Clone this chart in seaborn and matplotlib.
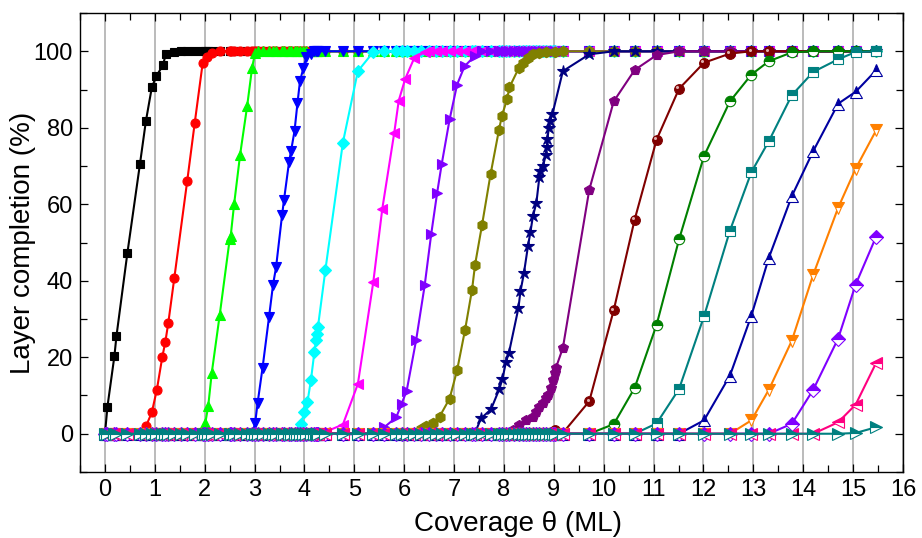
import numpy as np
import pandas as pd
import matplotlib
matplotlib.use("Agg")
import matplotlib.pyplot as plt
from matplotlib.ticker import MultipleLocator
from matplotlib.transforms import ScaledTranslation
import seaborn as sns

# Coverage values (ML) at which the layer completions were sampled
coverage_grid = [
    0.0, 0.05, 0.19, 0.23, 0.45, 0.70, 0.82, 0.94, 1.03, 1.15, 1.21, 1.27, 1.39,
    1.52, 1.65, 1.80, 1.96, 2.01, 2.07, 2.14, 2.30, 2.50, 2.52, 2.59, 2.71, 2.85,
    2.95, 3.01, 3.06, 3.16, 3.29, 3.37, 3.43, 3.55, 3.59, 3.69, 3.73, 3.80, 3.86,
    3.91, 3.98, 4.04, 4.13, 4.20, 4.23, 4.25, 4.27, 4.42, 4.77, 5.07, 5.38, 5.60,
    5.84, 5.95, 6.05, 6.20, 6.34, 6.50, 6.64, 6.75, 6.91, 7.06, 7.21, 7.36, 7.41,
    7.56, 7.73, 7.90, 7.97, 8.05, 8.11, 8.20, 8.30, 8.38, 8.45, 8.51, 8.58, 8.65,
    8.71, 8.78, 8.85, 8.92, 8.98, 9.02, 9.18, 9.71, 10.20, 10.62, 11.06, 11.51,
    12.01, 12.53, 12.96, 13.31, 13.77, 14.20, 14.70, 15.05, 15.46,
]

# Rising part of each layer's completion curve (coverage, completion %)
layer1_x = [0.0, 0.05, 0.19, 0.23, 0.45, 0.70, 0.82, 0.94, 1.03, 1.16, 1.22, 1.39]
layer1_y = [0.0, 7.1, 20.4, 25.5, 47.3, 70.4, 81.7, 90.6, 93.5, 96.3, 99.2, 99.8]

layer2_x = [0.70, 0.82, 0.94, 1.04, 1.15, 1.21, 1.27, 1.39, 1.65, 1.80, 1.96, 2.05, 2.14]
layer2_y = [0.0, 1.9, 5.6, 11.5, 20.1, 24.0, 29.0, 40.7, 66.2, 81.3, 97.0, 98.6, 99.6]

layer3_x = [1.96, 2.01, 2.07, 2.14, 2.30, 2.50, 2.52, 2.59, 2.71, 2.85, 2.95, 3.01]
layer3_y = [0.0, 2.7, 7.2, 15.8, 31.0, 50.8, 51.6, 60.1, 73.0, 85.6, 95.7, 99.6]

layer4_x = [2.95, 3.01, 3.06, 3.16, 3.29, 3.37, 3.43, 3.55, 3.59, 3.69, 3.73, 3.80,
            3.86, 3.91, 3.98, 4.04, 4.13]
layer4_y = [0.0, 2.7, 8.0, 17.3, 30.6, 39.0, 43.5, 57.1, 61.2, 71.0, 73.9, 79.1,
            86.5, 92.2, 95.7, 98.6, 99.4]

layer5_x = [3.80, 3.93, 4.00, 4.06, 4.13, 4.20, 4.23, 4.25, 4.27, 4.42, 4.77, 5.07, 5.38]
layer5_y = [0.0, 2.6, 5.8, 8.3, 14.1, 21.5, 24.4, 26.0, 27.9, 42.9, 76.1, 94.8, 99.8]

layer6_x = [4.42, 4.77, 5.07, 5.38, 5.56, 5.80, 5.89, 6.02, 6.20, 6.41]
layer6_y = [0.5, 2.4, 13.0, 39.7, 58.8, 78.7, 87.1, 92.8, 98.2, 99.8]

layer7_x = [5.38, 5.60, 5.84, 5.95, 6.05, 6.24, 6.41, 6.54, 6.66, 6.75, 6.91, 7.06,
            7.21, 7.41]
layer7_y = [0.0, 1.7, 4.3, 7.9, 11.3, 24.6, 38.8, 52.1, 63.0, 70.4, 82.2, 91.3,
            96.1, 98.7]

layer8_x = [6.20, 6.34, 6.44, 6.57, 6.71, 6.91, 7.06, 7.22, 7.36, 7.42, 7.56, 7.73,
            7.90, 7.96, 8.06, 8.11, 8.30, 8.38, 8.48, 8.58, 8.71, 8.85, 9.02, 9.18, 9.71]
layer8_y = [0.0, 1.2, 1.9, 2.8, 4.5, 9.2, 16.6, 27.2, 37.7, 44.2, 54.6, 67.8,
            79.5, 83.2, 87.4, 90.6, 95.7, 97.0, 98.3, 99.2, 99.6, 99.8, 99.9, 100.0, 100.0]

layer9_x = [7.41, 7.54, 7.74, 7.91, 7.97, 8.04, 8.10, 8.29, 8.33, 8.40, 8.48, 8.53,
            8.58, 8.65, 8.71, 8.73, 8.78, 8.84, 8.86, 8.87, 8.90, 8.92, 8.97, 9.18, 9.71]
layer9_y = [0.0, 4.0, 6.4, 11.8, 14.4, 18.8, 21.2, 32.9, 37.2, 42.0, 49.0, 52.7,
            56.9, 60.4, 67.2, 68.6, 69.9, 73.0, 75.0, 77.1, 80.0, 81.7, 83.5, 94.8, 99.2]

layer10_x = [8.18, 8.31, 8.45, 8.58, 8.65, 8.71, 8.78, 8.85, 8.88, 8.95, 8.98, 9.02,
             9.04, 9.18, 9.71, 10.20, 10.62, 11.06, 11.51]
layer10_y = [1.0, 2.4, 3.7, 4.5, 5.8, 7.1, 8.0, 9.3, 10.2, 12.0, 14.1, 15.9,
             17.2, 22.4, 63.8, 86.9, 95.1, 99.0, 100.0]

layer11_x = [8.98, 9.02, 9.18, 9.71, 10.20, 10.62, 11.06, 11.51, 12.01, 12.53, 12.96]
layer11_y = [0.0, 1.0, 0.2, 8.5, 32.3, 56.0, 76.9, 90.2, 97.0, 99.4, 100.0]

layer12_x = [9.71, 10.20, 10.62, 11.06, 11.51, 12.01, 12.53, 12.96, 13.31, 13.77]
layer12_y = [0.0, 2.5, 12.0, 28.5, 50.8, 72.6, 86.9, 93.9, 97.4, 99.7]

layer13_x = [10.62, 11.06, 11.51, 12.01, 12.53, 12.96, 13.31, 13.77, 14.20, 14.70, 15.05]
layer13_y = [0.0, 2.7, 11.7, 30.7, 53.1, 68.4, 76.5, 88.5, 94.6, 97.9, 99.8]

layer14_x = [11.51, 12.01, 12.53, 12.96, 13.31, 13.77, 14.20, 14.70, 15.05, 15.46]
layer14_y = [0.0, 3.5, 15.2, 30.9, 46.0, 62.1, 73.9, 86.3, 89.4, 95.0]

layer15_x = [12.53, 12.96, 13.31, 13.77, 14.20, 14.70, 15.05, 15.46]
layer15_y = [0.0, 3.5, 11.5, 24.3, 41.6, 59.1, 69.3, 79.3]

layer16_x = [13.31, 13.77, 14.20, 14.70, 15.05, 15.46]
layer16_y = [0.0, 2.6, 11.5, 24.9, 39.0, 51.5]

layer17_x = [14.20, 14.70, 15.05, 15.46]
layer17_y = [0.0, 3.0, 7.6, 18.5]

layer18_x = [15.05, 15.46]
layer18_y = [0.2, 1.7]

layers_x = [layer1_x, layer2_x, layer3_x, layer4_x, layer5_x, layer6_x, layer7_x,
            layer8_x, layer9_x, layer10_x, layer11_x, layer12_x, layer13_x,
            layer14_x, layer15_x, layer16_x, layer17_x, layer18_x]
layers_y = [layer1_y, layer2_y, layer3_y, layer4_y, layer5_y, layer6_y, layer7_y,
            layer8_y, layer9_y, layer10_y, layer11_y, layer12_y, layer13_y,
            layer14_y, layer15_y, layer16_y, layer17_y, layer18_y]

colors = ["#000000", "#FF0000", "#00FF00", "#0000FF", "#00FFFF", "#FF00FF",
          "#8000FF", "#808000", "#000080", "#800080", "#800000", "#008000",
          "#008080", "#0000A0", "#FF8000", "#8000FF", "#FF0080", "#008080"]
markers = ["s", "o", "^", "v", "D", "<", ">", "h", "*", "p", "o", "o",
           "s", "^", "v", "D", "<", ">"]
marker_sizes = [6, 6.5, 7, 7, 6, 7, 7, 7.5, 9, 7.5, 7, 7.5, 7, 8, 8, 7, 8, 8]
half_filled = [False] * 11 + [True] * 7


def full_series(rise_x, rise_y):
    """Complete a layer's curve: empty before its rise, full after it."""
    grid = np.asarray(coverage_grid)
    before = grid[grid < rise_x[0] - 0.02]
    after = grid[grid > rise_x[-1] + 0.02]
    x = np.concatenate([before, rise_x, after])
    y = np.concatenate([np.zeros(len(before)), rise_y, np.full(len(after), 100.0)])
    return pd.DataFrame({"coverage": x, "completion": y})


sns.set_style("ticks")
plt.rcParams["font.family"] = ["Liberation Sans", "DejaVu Sans"]
plt.rcParams.update({
    "axes.linewidth": 1.0,
    "axes.edgecolor": "black",
    "axes.labelcolor": "black",
    "text.color": "black",
    "xtick.color": "black",
    "ytick.color": "black",
})

fig = plt.figure(figsize=(9.22, 5.38), dpi=100)
ax = fig.add_axes([0.0868, 0.1227, 0.8926, 0.8531])

for i, (lx, ly) in enumerate(zip(layers_x, layers_y)):
    df = full_series(lx, ly)
    c = colors[i]
    style = dict(marker=markers[i], markersize=marker_sizes[i], markeredgecolor=c,
                 markeredgewidth=0.8, markerfacecolor=c, linewidth=1.5)
    if half_filled[i]:
        style.update(fillstyle="top", markerfacecoloralt="white")
    sns.lineplot(data=df, x="coverage", y="completion", color=c, ax=ax,
                 estimator=None, sort=False, legend=False, **style)
    if i == 10:
        # small specular highlight on the sphere markers
        shift = ScaledTranslation(-1.2 / 72, 1.2 / 72, fig.dpi_scale_trans)
        ax.plot(df["coverage"], df["completion"], linestyle="none", marker="o",
                markersize=2.2, color="#e0b0b0", markeredgewidth=0,
                transform=ax.transData + shift)

ax.set_xlim(-0.5, 16)
ax.set_ylim(-10, 110)
ax.xaxis.set_major_locator(MultipleLocator(1))
ax.xaxis.set_minor_locator(MultipleLocator(0.5))
ax.yaxis.set_major_locator(MultipleLocator(20))
ax.yaxis.set_minor_locator(MultipleLocator(10))
ax.tick_params(which="both", direction="in", top=True, right=True,
               labelsize=17, width=0.9, colors="black", pad=5)
ax.tick_params(which="major", length=6)
ax.tick_params(which="minor", length=5)
ax.grid(axis="x", which="major", color="#a8a8a8", linewidth=1.1)
ax.set_axisbelow(True)
for spine in ax.spines.values():
    spine.set_color("black")

ax.set_xlabel("Coverage θ (ML)", fontsize=20)
ax.set_ylabel("Layer completion (%)", fontsize=20)
ax.xaxis.set_label_coords(0.532, -0.086)
ax.yaxis.set_label_coords(-0.054, 0.5)

fig.savefig("out.png", dpi=100)
